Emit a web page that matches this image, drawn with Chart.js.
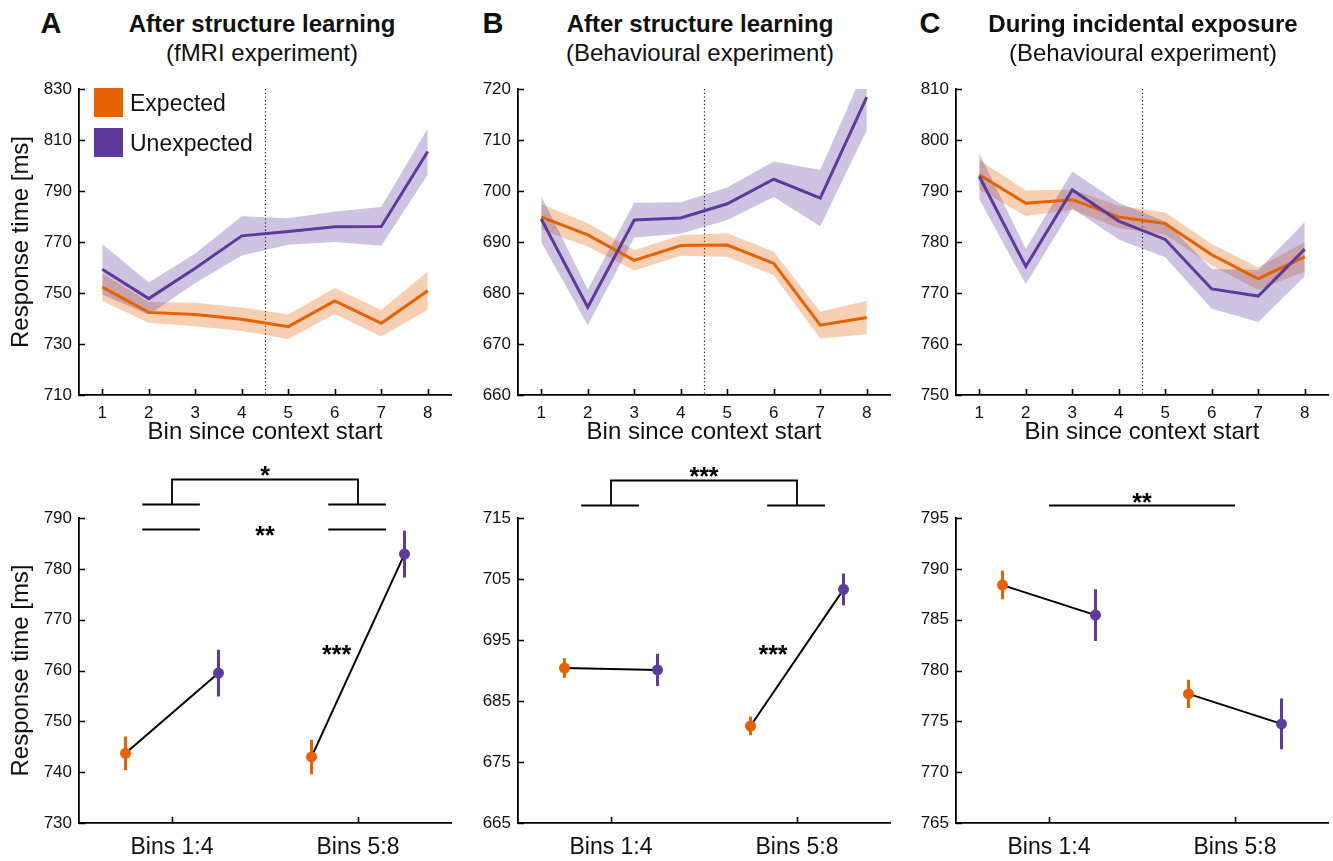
<!DOCTYPE html>
<html>
<head>
<meta charset="utf-8">
<title>Response time by bin</title>
<script src="https://cdn.jsdelivr.net/npm/chart.js@4/dist/chart.umd.min.js"></script>
<style>
  html, body { margin: 0; padding: 0; background: #fff; }
  body { width: 1333px; height: 861px; position: relative; overflow: hidden;
         font-family: "Liberation Sans", Arial, Helvetica, sans-serif; color: #111; }
  canvas { position: absolute; }
  .letter { position: absolute; font-weight: bold; font-size: 29px; line-height: 30px; transform: translate(-50%, -50%); }
  .title { position: absolute; width: 440px; text-align: center; font-size: 24px; line-height: 29px; transform: translateX(-50%); top: 9px; }
  .title b { font-weight: bold; }
  .legend { position: absolute; left: 94px; top: 88px; font-size: 23px; }
  .legend .row { position: relative; height: 40px; }
  .legend .sw { position: absolute; left: 0; top: 0; width: 29px; height: 29px; }
  .legend .tx { position: absolute; left: 36px; top: 0; line-height: 30px; white-space: nowrap; }
</style>
</head>
<body>

<canvas id="topA" width="458" height="386" style="left:-1px; top:69px;"></canvas>
<canvas id="topB" width="458" height="386" style="left:438px; top:69px;"></canvas>
<canvas id="topC" width="458" height="386" style="left:876px; top:69px;"></canvas>
<canvas id="botA" width="458" height="411" style="left:-1px; top:450px;"></canvas>
<canvas id="botB" width="458" height="411" style="left:438px; top:450px;"></canvas>
<canvas id="botC" width="458" height="411" style="left:876px; top:450px;"></canvas>

<div class="letter" style="left:51px; top:23px;">A</div>
<div class="letter" style="left:493px; top:23px;">B</div>
<div class="letter" style="left:930px; top:23px;">C</div>

<div class="title" style="left:262px;"><b>After structure learning</b><br>(fMRI experiment)</div>
<div class="title" style="left:700px;"><b>After structure learning</b><br>(Behavioural experiment)</div>
<div class="title" style="left:1143px;"><b>During incidental exposure</b><br>(Behavioural experiment)</div>

<div class="legend">
  <div class="row"><div class="sw" style="background:#E66100"></div><div class="tx">Expected</div></div>
  <div class="row"><div class="sw" style="background:#5D3A9B"></div><div class="tx">Unexpected</div></div>
</div>

<script>
// ---- data ---------------------------------------------------------------
const bins = [1, 2, 3, 4, 5, 6, 7, 8];
const groups = ['Bins 1:4', 'Bins 5:8'];

// A: after structure learning, fMRI experiment (mean and SEM per bin)
const fmriExpected      = [752.3, 742.4, 741.6, 739.7, 736.8, 746.9, 738.1, 750.9];
const fmriExpectedSem   = [5.4, 4.1, 4.6, 4.6, 4.8, 5.1, 5.2, 7.5];
const fmriUnexpected    = [759.3, 747.8, 759.7, 772.4, 774.1, 776.0, 776.1, 805.5];
const fmriUnexpectedSem = [9.9, 6.3, 5.8, 7.7, 5.2, 6.0, 7.6, 9.0];
const fmriTicks         = [710, 730, 750, 770, 790, 810, 830];

// B: after structure learning, behavioural experiment
const behavExpected      = [694.9, 691.4, 686.4, 689.3, 689.4, 685.8, 673.7, 675.2];
const behavExpectedSem   = [2.5, 2.3, 2.0, 2.0, 2.3, 2.3, 2.6, 3.3];
const behavUnexpected    = [694.5, 677.2, 694.3, 694.7, 697.5, 702.3, 698.6, 718.4];
const behavUnexpectedSem = [4.5, 3.5, 3.4, 3.1, 3.2, 3.5, 5.5, 6.5];
const behavTicks         = [660, 670, 680, 690, 700, 710, 720];

// C: during incidental exposure, behavioural experiment
const exposureExpected      = [793.2, 787.6, 788.3, 784.9, 783.6, 777.5, 772.8, 777.1];
const exposureExpectedSem   = [2.9, 2.5, 2.0, 2.2, 2.2, 2.1, 2.2, 2.9];
const exposureUnexpected    = [792.9, 775.2, 790.2, 784.1, 780.5, 770.8, 769.4, 778.6];
const exposureUnexpectedSem = [4.5, 3.5, 3.6, 3.6, 3.5, 3.9, 5.1, 5.3];
const exposureTicks         = [750, 760, 770, 780, 790, 800, 810];

// Averages over bins 1:4 and 5:8 (mean and SEM)
const fmriGroupExpected        = [743.7, 743.0];
const fmriGroupExpectedSem     = [3.3, 3.4];
const fmriGroupUnexpected      = [759.5, 782.9];
const fmriGroupUnexpectedSem   = [4.6, 4.6];
const fmriGroupTicks           = [730, 740, 750, 760, 770, 780, 790];

const behavGroupExpected       = [690.4, 680.9];
const behavGroupExpectedSem    = [1.6, 1.5];
const behavGroupUnexpected     = [690.1, 703.3];
const behavGroupUnexpectedSem  = [2.65, 2.6];
const behavGroupTicks          = [665, 675, 685, 695, 705, 715];

const exposureGroupExpected      = [788.4, 777.7];
const exposureGroupExpectedSem   = [1.4, 1.4];
const exposureGroupUnexpected    = [785.45, 774.75];
const exposureGroupUnexpectedSem = [2.55, 2.5];
const exposureGroupTicks         = [765, 770, 775, 780, 785, 790, 795];

// ---- styling ------------------------------------------------------------
const ORANGE = '#E66100';
const PURPLE = '#5D3A9B';
const ORANGE_BAND = 'rgba(230, 97, 0, 0.30)';
const PURPLE_BAND = 'rgba(93, 58, 155, 0.30)';
const FONT = '"Liberation Sans", Arial, Helvetica, sans-serif';
const INK = '#111';
const GROUP_OFFSET = 0.25;

Chart.defaults.font.family = FONT;
Chart.defaults.color = INK;

// ---- plugins ------------------------------------------------------------
// MATLAB-style tick marks pointing into the plot area
const innerTicks = {
  id: 'innerTicks',
  afterDraw(chart) {
    const { ctx, chartArea: a, scales: { x, y } } = chart;
    ctx.save();
    ctx.strokeStyle = '#000';
    ctx.lineWidth = 1.6;
    ctx.beginPath();
    x.ticks.forEach(t => {
      const px = Math.round(x.getPixelForValue(t.value)) + 0.5;
      ctx.moveTo(px, a.bottom); ctx.lineTo(px, a.bottom - 6);
    });
    y.ticks.forEach(t => {
      const py = Math.round(y.getPixelForValue(t.value)) + 0.5;
      ctx.moveTo(a.left, py); ctx.lineTo(a.left + 6, py);
    });
    ctx.stroke();
    ctx.restore();
  }
};

// dotted vertical divider between the first and second half of the bins
const divider = {
  id: 'divider',
  beforeDatasetsDraw(chart, args, opts) {
    if (opts.value == null) return;
    const { ctx, chartArea: a, scales: { x } } = chart;
    const px = Math.round(x.getPixelForValue(opts.value)) + 0.5;
    ctx.save();
    ctx.strokeStyle = '#222';
    ctx.lineWidth = 1.2;
    ctx.setLineDash([1.3, 2.4]);
    ctx.beginPath();
    ctx.moveTo(px, a.top); ctx.lineTo(px, a.bottom);
    ctx.stroke();
    ctx.restore();
  }
};

// vertical SEM bars for the group averages
const errorBars = {
  id: 'errorBars',
  beforeDatasetsDraw(chart) {
    const { ctx, scales: { x, y } } = chart;
    ctx.save();
    chart.data.datasets.forEach(ds => {
      if (!ds.errors) return;
      ctx.strokeStyle = ds.backgroundColor;
      ctx.lineWidth = 3;
      ctx.beginPath();
      ds.data.forEach((p, i) => {
        const px = x.getPixelForValue(p.x);
        ctx.moveTo(px, y.getPixelForValue(p.y + ds.errors[i]));
        ctx.lineTo(px, y.getPixelForValue(p.y - ds.errors[i]));
      });
      ctx.stroke();
    });
    ctx.restore();
  }
};

// significance brackets and stars above the group averages
const significance = {
  id: 'significance',
  afterDraw(chart, args, opts) {
    const { ctx, scales: { x, y } } = chart;
    ctx.save();
    ctx.strokeStyle = '#000';
    ctx.lineWidth = 1.8;
    (opts.paths || []).forEach(path => {
      ctx.beginPath();
      path.forEach(([vx, vy], i) => {
        const px = x.getPixelForValue(vx);
        const py = Math.round(y.getPixelForValue(vy)) + 0.5;
        if (i === 0) ctx.moveTo(px, py); else ctx.lineTo(px, py);
      });
      ctx.stroke();
    });
    ctx.fillStyle = '#000';
    ctx.font = 'bold 25px ' + FONT;
    ctx.textAlign = 'center';
    ctx.textBaseline = 'alphabetic';
    (opts.stars || []).forEach(([text, vx, vy]) => {
      ctx.fillText(text, x.getPixelForValue(vx), y.getPixelForValue(vy) + 14);
    });
    ctx.restore();
  }
};

// ---- builders -----------------------------------------------------------
const points = (xs, ys) => ys.map((v, i) => ({ x: xs[i], y: v }));
const shifted = (ys, sign, sem) => ys.map((v, i) => ({ x: bins[i], y: v + sign * sem[i] }));

function yScale(ticks, withTitle) {
  return {
    type: 'linear',
    min: ticks[0],
    max: ticks[ticks.length - 1],
    afterBuildTicks: s => { s.ticks = ticks.map(v => ({ value: v })); },
    afterFit: s => { s.width = 80; },
    grid: { display: false, drawTicks: false },
    border: { display: true, color: '#000', width: 1.8 },
    ticks: { padding: 7, font: { size: 17 }, color: INK },
    title: {
      display: withTitle,
      text: 'Response time [ms]',
      font: { size: 24 },
      color: INK,
      padding: { top: 8, bottom: 0 }
    }
  };
}

function timecourse(id, exp, expSem, unexp, unexpSem, yTicks, withTitle) {
  const band = (data, fill, color) => ({
    data, fill, backgroundColor: color, borderColor: 'transparent',
    borderWidth: 0, pointRadius: 0, tension: 0
  });
  return new Chart(document.getElementById(id), {
    type: 'line',
    data: {
      datasets: [
        { label: 'Unexpected', data: points(bins, unexp), borderColor: PURPLE, borderWidth: 3,
          pointRadius: 0, fill: false, tension: 0 },
        { label: 'Expected', data: points(bins, exp), borderColor: ORANGE, borderWidth: 3,
          pointRadius: 0, fill: false, tension: 0 },
        band(shifted(unexp, 1, unexpSem), false, PURPLE_BAND),
        band(shifted(unexp, -1, unexpSem), '-1', PURPLE_BAND),
        band(shifted(exp, 1, expSem), false, ORANGE_BAND),
        band(shifted(exp, -1, expSem), '-1', ORANGE_BAND)
      ]
    },
    options: {
      animation: false,
      responsive: false,
      layout: { padding: { top: 20, right: 6, bottom: 0, left: 0 } },
      plugins: {
        legend: { display: false },
        tooltip: { enabled: false },
        divider: { value: 4.5 }
      },
      scales: {
        x: {
          type: 'linear',
          min: 0.5,
          max: 8.5,
          afterBuildTicks: s => { s.ticks = bins.map(v => ({ value: v })); },
          afterFit: s => { s.height = 60; },
          grid: { display: false, drawTicks: false },
          border: { display: true, color: '#000', width: 1.8 },
          ticks: { padding: 8, font: { size: 17 }, color: INK, autoSkip: false, maxRotation: 0 },
          title: {
            display: true,
            text: 'Bin since context start',
            font: { size: 24 },
            color: INK,
            padding: { top: 0, bottom: 8 }
          }
        },
        y: yScale(yTicks, withTitle)
      }
    },
    plugins: [divider, innerTicks]
  });
}

function groupAverages(id, exp, expSem, unexp, unexpSem, yTicks, withTitle, marks) {
  const slots = [1, 2];
  const expX = slots.map(s => s - GROUP_OFFSET);
  const unexpX = slots.map(s => s + GROUP_OFFSET);
  const pairs = slots.map((s, i) => ({
    data: [{ x: expX[i], y: exp[i] }, { x: unexpX[i], y: unexp[i] }],
    borderColor: '#000', borderWidth: 2, pointRadius: 0, fill: false, tension: 0
  }));
  return new Chart(document.getElementById(id), {
    type: 'line',
    data: {
      datasets: [
        { label: 'Expected', data: points(expX, exp), errors: expSem, showLine: false,
          backgroundColor: ORANGE, borderColor: ORANGE, pointRadius: 5.5, pointBorderWidth: 0 },
        { label: 'Unexpected', data: points(unexpX, unexp), errors: unexpSem, showLine: false,
          backgroundColor: PURPLE, borderColor: PURPLE, pointRadius: 5.5, pointBorderWidth: 0 },
        ...pairs
      ]
    },
    options: {
      animation: false,
      responsive: false,
      layout: { padding: { top: 68, right: 6, bottom: 0, left: 0 } },
      plugins: {
        legend: { display: false },
        tooltip: { enabled: false },
        significance: marks
      },
      scales: {
        x: {
          type: 'linear',
          min: 0.5,
          max: 2.5,
          afterBuildTicks: s => { s.ticks = slots.map(v => ({ value: v })); },
          afterFit: s => { s.height = 38; },
          grid: { display: false, drawTicks: false },
          border: { display: true, color: '#000', width: 1.8 },
          ticks: {
            padding: 11, font: { size: 23 }, color: INK, autoSkip: false, maxRotation: 0,
            callback: v => groups[v - 1]
          }
        },
        y: yScale(yTicks, withTitle)
      }
    },
    plugins: [errorBars, significance, innerTicks]
  });
}

// ---- charts -------------------------------------------------------------
timecourse('topA', fmriExpected, fmriExpectedSem, fmriUnexpected, fmriUnexpectedSem, fmriTicks, true);
timecourse('topB', behavExpected, behavExpectedSem, behavUnexpected, behavUnexpectedSem, behavTicks, false);
timecourse('topC', exposureExpected, exposureExpectedSem, exposureUnexpected, exposureUnexpectedSem, exposureTicks, false);

groupAverages('botA', fmriGroupExpected, fmriGroupExpectedSem, fmriGroupUnexpected, fmriGroupUnexpectedSem,
  fmriGroupTicks, true, {
    paths: [
      [[0.84, 792.8], [1.15, 792.8]], [[1.84, 792.8], [2.15, 792.8]],
      [[1, 792.8], [1, 797.7], [2, 797.7], [2, 792.8]],
      [[0.84, 787.9], [1.15, 787.9]], [[1.84, 787.9], [2.15, 787.9]]
    ],
    stars: [['*', 1.5, 799.5], ['**', 1.5, 787.7], ['***', 1.885, 764.2]]
  });

groupAverages('botB', behavGroupExpected, behavGroupExpectedSem, behavGroupUnexpected, behavGroupUnexpectedSem,
  behavGroupTicks, false, {
    paths: [
      [[0.84, 717.2], [1.15, 717.2]], [[1.84, 717.2], [2.15, 717.2]],
      [[1, 717.2], [1, 721.3], [2, 721.3], [2, 717.2]]
    ],
    stars: [['***', 1.5, 722.7], ['***', 1.871, 693.5]]
  });

groupAverages('botC', exposureGroupExpected, exposureGroupExpectedSem, exposureGroupUnexpected, exposureGroupUnexpectedSem,
  exposureGroupTicks, false, {
    paths: [[[1, 796.3], [2, 796.3]]],
    stars: [['**', 1.5, 797.06]]
  });
</script>
</body>
</html>
